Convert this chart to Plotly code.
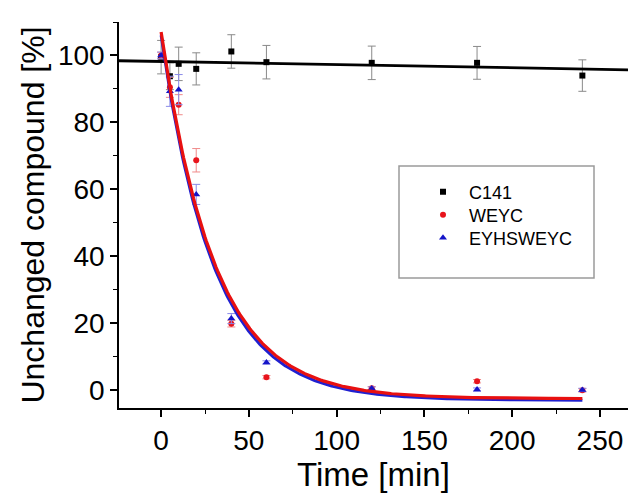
import numpy as np
import plotly.graph_objects as go

# Sampling times (min)
time_min = [0, 5, 10, 20, 40, 60, 120, 180, 240]

# Unchanged compound (%) and standard deviations
c141 = [99.5, 93.8, 97.5, 96.0, 101.2, 98.0, 97.8, 97.8, 94.0]
c141_sd = [5.0, 4.0, 5.0, 4.8, 5.0, 5.0, 5.0, 4.9, 4.7]

weyc = [100.0, 90.5, 85.3, 68.7, 19.9, 3.9, 0.6, 2.7, 0.0]
weyc_sd = [1.0, 3.0, 3.0, 3.5, 1.0, 0.5, 0.5, 0.5, 0.5]

eyhs = [100.0, 89.3, 89.8, 58.5, 21.4, 8.3, 0.5, 0.2, 0.1]
eyhs_sd = [1.0, 4.5, 4.5, 3.0, 1.5, 0.5, 0.5, 0.5, 0.5]

# Fitted models: linear for C141, first-order decay (A*exp(-t/tau)+y0) for peptides
c141_fit = dict(intercept=98.2, slope=-0.0093)
weyc_fit = dict(A=109.5, tau=30.5, y0=-2.5)
eyhs_fit = dict(A=109.0, tau=30.0, y0=-3.0)

X_RANGE = [-24, 266]
Y_RANGE = [-5.3, 110]

FONT = "Liberation Sans, Arial, sans-serif"

t_lin = np.array(X_RANGE, dtype=float)
t_exp = np.linspace(0, 240, 300)


def decay(p, t):
    return p["A"] * np.exp(-t / p["tau"]) + p["y0"]


W, H = 635, 496
L, R, T, B = 119, 7, 22, 88
pw, ph = W - L - R, H - T - B


def px_x(px):
    return (px - L) / pw


def px_y(py):
    return (H - B - py) / ph


fig = go.Figure()

fig.add_trace(go.Scatter(
    x=time_min, y=c141, mode="markers", name="C141", legend="legend",
    marker=dict(symbol="square", size=6, color="black"),
    error_y=dict(type="data", array=c141_sd, color="#8a8a8a", thickness=1, width=4),
))
fig.add_trace(go.Scatter(
    x=time_min, y=weyc, mode="markers", name="WEYC", legend="legend2",
    marker=dict(symbol="circle", size=6, color="#e8141c"),
    error_y=dict(type="data", array=weyc_sd, color="#f08a8a", thickness=1, width=4),
))
fig.add_trace(go.Scatter(
    x=time_min, y=eyhs, mode="markers", name="EYHSWEYC", legend="legend3",
    marker=dict(symbol="triangle-up", size=7, color="#1414c8"),
    error_y=dict(type="data", array=eyhs_sd, color="#8a8ae8", thickness=1, width=4),
))

fig.add_trace(go.Scatter(
    x=t_lin, y=c141_fit["intercept"] + c141_fit["slope"] * t_lin,
    mode="lines", line=dict(color="black", width=2.8), showlegend=False, hoverinfo="skip",
))
fig.add_trace(go.Scatter(
    x=t_exp, y=decay(eyhs_fit, t_exp),
    mode="lines", line=dict(color="#2020d0", width=3), showlegend=False, hoverinfo="skip",
))
fig.add_trace(go.Scatter(
    x=t_exp, y=decay(weyc_fit, t_exp),
    mode="lines", line=dict(color="#e81010", width=3.2), showlegend=False, hoverinfo="skip",
))

# Legend frame
fig.add_shape(type="rect", xref="paper", yref="paper",
              x0=px_x(399), x1=px_x(594), y0=px_y(278), y1=px_y(166),
              line=dict(color="#9a9a9a", width=1.5), fillcolor="rgba(0,0,0,0)")

legend_rows = [192, 215, 238]


def legend_at(row_y):
    return dict(
        x=px_x(417), y=px_y(row_y), xanchor="left", yanchor="middle",
        bgcolor="rgba(0,0,0,0)", borderwidth=0, itemwidth=42,
        font=dict(size=18, family=FONT, color="black"),
    )


fig.update_layout(
    width=W, height=H,
    margin=dict(l=L, r=R, t=T, b=B),
    plot_bgcolor="white", paper_bgcolor="white",
    font=dict(family=FONT, color="black"),
    showlegend=True,
    legend=legend_at(legend_rows[0]),
    legend2=legend_at(legend_rows[1]),
    legend3=legend_at(legend_rows[2]),
)

fig.update_xaxes(
    range=X_RANGE, showgrid=False, zeroline=False,
    showline=True, linecolor="black", linewidth=1.5,
    ticks="outside", ticklen=7, tickwidth=1.5, tickcolor="black",
    tick0=0, dtick=50,
    minor=dict(ticks="outside", ticklen=4, tickwidth=1.2, tickcolor="black", tick0=0, dtick=25),
    tickfont=dict(size=28, family=FONT),
    title=dict(text="Time [min]", font=dict(size=33, family=FONT), standoff=6),
)
fig.update_yaxes(
    range=Y_RANGE, showgrid=False, zeroline=False,
    showline=True, linecolor="black", linewidth=1.5,
    ticks="outside", ticklen=7, tickwidth=1.5, tickcolor="black",
    tick0=0, dtick=20,
    minor=dict(ticks="outside", ticklen=4, tickwidth=1.2, tickcolor="black", tick0=0, dtick=10),
    tickfont=dict(size=28, family=FONT),
    title=dict(text="Unchanged compound [%]", font=dict(size=32, family=FONT), standoff=4),
)

fig.write_html("out.html")
